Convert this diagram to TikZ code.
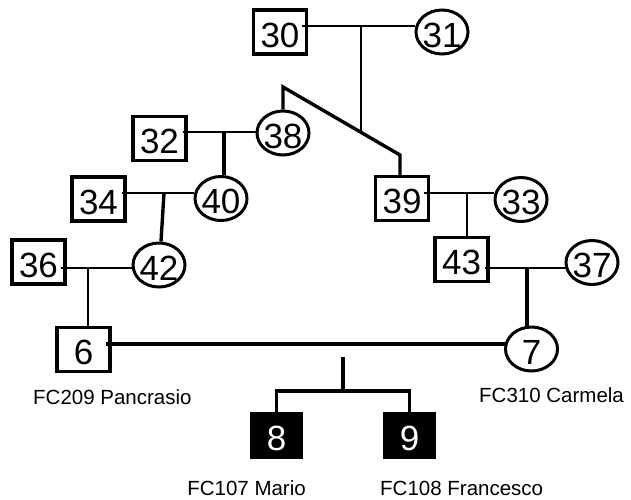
\documentclass[tikz,border=0pt]{standalone}
\usepackage{fontspec}
\setmainfont{Liberation Sans}
\usetikzlibrary{shapes.geometric}
\begin{document}
\begin{tikzpicture}[x=1pt,y=-1pt,
  numtext/.style={font=\fontsize{35}{35}\selectfont, text height=30pt, text depth=0pt},
  male/.style={draw, line width=3.2pt, rectangle, minimum width=53pt, minimum height=44pt, inner sep=0pt, numtext},
  female/.style={draw, line width=3pt, ellipse, minimum width=52pt, minimum height=44pt, inner sep=0pt, numtext},
  child/.style={fill=black, text=white, rectangle, minimum width=53pt, minimum height=47pt, inner sep=0pt, numtext},
  rel/.style={line width=1.5pt},
  desc/.style={line width=3.4pt},
  lbl/.style={font=\fontsize{20.5}{20.5}\selectfont, inner sep=0pt}]
\useasboundingbox (0,0) rectangle (631,499);
% persons
\node[male] (n30) at (280,32) {30};
\node[female] (n31) at (442,32) {\makebox[0pt]{31}};
\node[female] (n38) at (283,133) {\makebox[0pt]{38}};
\node[male] (n32) at (159.5,138.5) {32};
\node[female] (n40) at (221,198.5) {\makebox[0pt]{40}};
\node[male] (n34) at (98.5,199) {34};
\node[female] (n42) at (159,265) {\makebox[0pt]{42}};
\node[male] (n36) at (38.5,262) {36};
\node[male] (n39) at (402,198.5) {39};
\node[female] (n33) at (521,199.5) {\makebox[0pt]{33}};
\node[male] (n43) at (461.5,259.5) {43};
\node[female] (n37) at (592,262.5) {\makebox[0pt]{37}};
\node[male] (n6) at (83.5,349.5) {6};
\node[female] (n7) at (531.5,349) {\makebox[0pt]{7}};
\node[child] (n8) at (276.5,435.5) {8};
\node[child] (n9) at (409.5,435.5) {9};
% couples
\coordinate (m3031) at (361,26);
\coordinate (dj) at (361,131);
\draw[rel] ([xshift=-6pt]n30.east |- m3031) -- (n31.west |- m3031);
\draw[rel] (m3031) -- (dj);
\coordinate (d1) at (283,87);
\coordinate (d2) at (400,155);
\draw[desc] (n38.north) -- (d1) -- (d2) -- (d2 |- n39.north);
\coordinate (m3238) at (224,132);
\draw[rel] ([xshift=-5pt]n32.east |- m3238) -- (n38.west |- m3238);
\draw[desc] (m3238) -- (m3238 |- n40.north);
\coordinate (m3440) at (164,193);
\draw[rel] ([xshift=-5pt]n34.east |- m3440) -- (n40.west |- m3440);
\draw[desc] (m3440) -- ([xshift=2pt]n42.north);
\coordinate (m3642) at (88,268);
\draw[rel] ([xshift=-6pt]n36.east |- m3642) -- (n42.west |- m3642);
\draw[rel] (m3642) -- (m3642 |- n6.north);
\coordinate (m3933) at (467,193);
\draw[rel] ([xshift=-6pt]n39.east |- m3933) -- (n33.west |- m3933);
\draw[rel] (m3933) -- (m3933 |- n43.north);
\coordinate (m4337) at (527,268);
\draw[rel] ([xshift=-5pt]n43.east |- m4337) -- ([xshift=1pt]n37.west |- m4337);
\draw[desc] (m4337) -- (m4337 |- n7.north);
\coordinate (m67) at (343,344);
\draw[desc] ([xshift=-6pt]n6.east |- m67) -- ([xshift=2pt]n7.west |- m67);
\coordinate (s1) at (343,357);
\coordinate (s2) at (343,391);
\draw[desc] (s1) -- (s2);
\draw[desc] (n8.north) -- (n8.north |- s2) -- (n9.north |- s2) -- (n9.north);
% labels
\node[lbl, anchor=base west] (l6) at (33,404) {FC209 Pancrasio};
\node[lbl, anchor=base west] (l7) at (479,402) {FC310 Carmela};
\node[lbl, anchor=base east] (l8) at (306,495) {FC107 Mario};
\node[lbl, anchor=base west] (l9) at (380,495) {FC108 Francesco};
\end{tikzpicture}
\end{document}
